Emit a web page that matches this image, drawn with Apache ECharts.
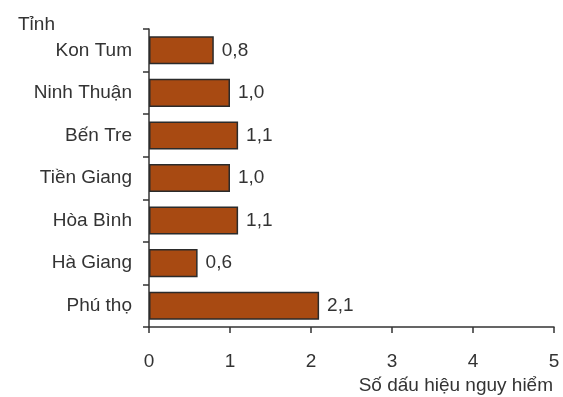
<!DOCTYPE html>
<html>
<head>
<meta charset="utf-8">
<script src="https://cdn.jsdelivr.net/npm/echarts@6/dist/echarts.min.js"></script>
<style>
html,body{margin:0;padding:0;background:#fff;}
#chart{width:563px;height:397px;}
</style>
</head>
<body>
<div id="chart"></div>
<script>
// Provinces listed bottom-to-top (ECharts category y-axis runs upward)
var provinces = ['Phú thọ', 'Hà Giang', 'Hòa Bình', 'Tiền Giang', 'Bến Tre', 'Ninh Thuận', 'Kon Tum'];
var signCounts = [2.1, 0.6, 1.1, 1.0, 1.1, 1.0, 0.8];
var xTicks = [0, 1, 2, 3, 4, 5];

var FONT = '"Liberation Sans Narrow", "Arial Narrow", "Liberation Sans", sans-serif';
var INK = '#333333';
var FS = 19;

var chart = echarts.init(document.getElementById('chart'));
chart.setOption({
  animation: false,
  backgroundColor: '#ffffff',
  title: [
    { text: 'Tỉnh', left: 18, top: 15, padding: 0,
      textStyle: { fontFamily: FONT, fontSize: FS, fontWeight: 'normal', color: INK } },
    { text: 'Số dấu hiệu nguy hiểm', right: 10, top: 376, padding: 0,
      textStyle: { fontFamily: FONT, fontSize: FS, fontWeight: 'normal', color: INK } }
  ],
  grid: { left: 149, right: 9, top: 29, bottom: 70 },
  xAxis: {
    type: 'value',
    min: xTicks[0],
    max: xTicks[xTicks.length - 1],
    interval: 1,
    splitLine: { show: false },
    axisLine: { show: true, lineStyle: { color: INK, width: 1.5 } },
    axisTick: { show: true, length: 6, lineStyle: { color: INK, width: 1.5 } },
    axisLabel: { fontFamily: FONT, fontSize: FS, color: INK, margin: 25 }
  },
  yAxis: {
    type: 'category',
    data: provinces,
    axisLine: { show: true, lineStyle: { color: INK, width: 1.5 } },
    axisTick: { show: true, length: 6, lineStyle: { color: INK, width: 1.5 } },
    axisLabel: { fontFamily: FONT, fontSize: FS, color: INK, margin: 17 }
  },
  series: [{
    type: 'bar',
    data: signCounts,
    barWidth: '66%',
    itemStyle: { color: '#A84A12', borderColor: '#2b2b2b', borderWidth: 1.5 },
    label: {
      show: true,
      position: 'right',
      distance: 8,
      fontFamily: FONT,
      fontSize: FS,
      color: INK,
      formatter: function (p) { return p.value.toFixed(1).replace('.', ','); }
    }
  }]
});
</script>
</body>
</html>
